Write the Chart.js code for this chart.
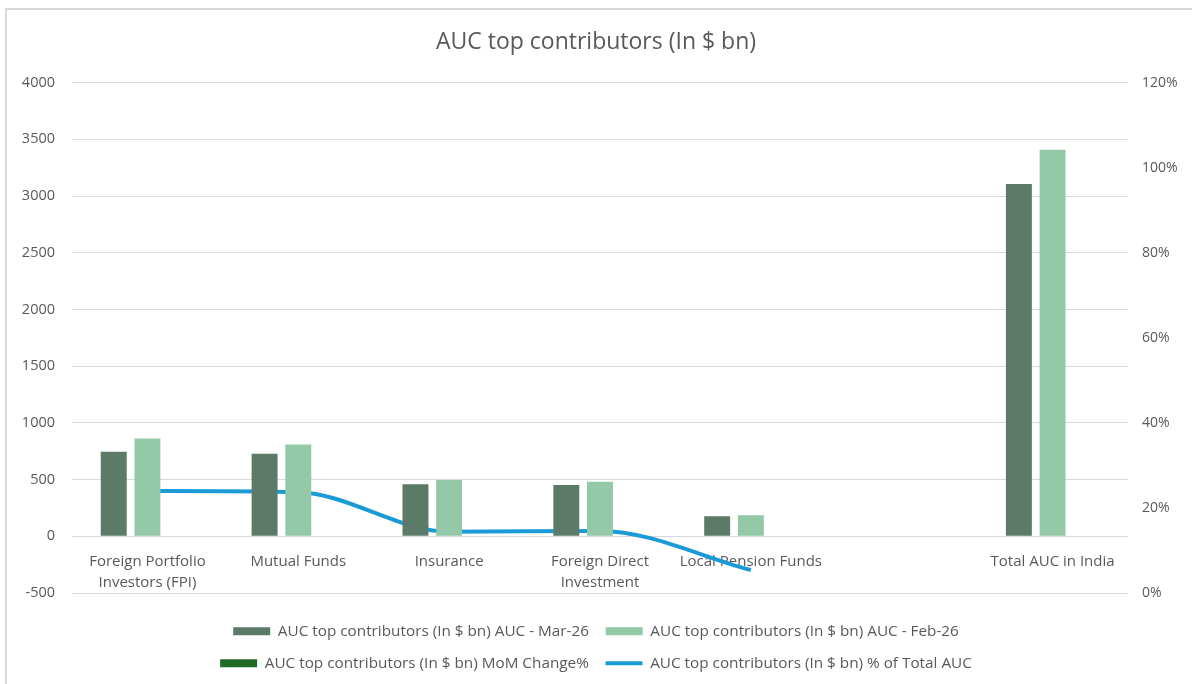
<!DOCTYPE html>
<html>
<head>
<meta charset="utf-8">
<script src="https://cdn.jsdelivr.net/npm/chart.js@4.4.1/dist/chart.umd.min.js"></script>
<style>
  html, body { margin: 0; padding: 0; background: #ffffff; }
  #wrap { width: 1192px; height: 684px; }
</style>
</head>
<body>
<div id="wrap"><canvas id="myChart" width="1192" height="684"></canvas></div>
<script>
    // Data
    const categories = [
        ['Foreign Portfolio', 'Investors (FPI)'],
        'Mutual Funds',
        'Insurance',
        ['Foreign Direct', 'Investment'],
        'Local Pension Funds',
        '',
        'Total AUC in India'
    ];
    const aucMar26 = [745, 728, 458, 452, 176, null, 3105];
    const aucFeb26 = [862, 810, 496, 481, 185, null, 3407];
    const momChange = [-0.14, -0.10, -0.08, -0.06, -0.05, null, -0.09];
    const shareOfTotal = [24.0, 23.7, 14.4, 14.6, 5.4, null, null];

    const leftTicks = { min: -500, max: 4000, step: 500 };
    const rightTicks = { min: 0, max: 120, step: 20 };

    const momColor = '#1f6b26';

    Chart.defaults.font.family = '"Open Sans", Roboto, sans-serif';
    Chart.defaults.font.size = 14;
    Chart.defaults.color = '#595959';

    // light frame on the top and left edge, like the source screenshot
    const frame = {
        id: 'frame',
        beforeDraw(chart) {
            const ctx = chart.ctx;
            ctx.save();
            ctx.fillStyle = '#ffffff';
            ctx.fillRect(0, 0, chart.width, chart.height);
            ctx.strokeStyle = '#d9d9d9';
            ctx.lineWidth = 2;
            ctx.beginPath();
            ctx.moveTo(6, chart.height);
            ctx.lineTo(6, 9);
            ctx.lineTo(chart.width, 9);
            ctx.stroke();
            ctx.restore();
        }
    };

    // keep the legend at two items per row
    const legendRows = {
        id: 'legendRows',
        afterInit(chart) {
            const legend = chart.legend;
            const update = legend.update.bind(legend);
            legend.update = (w, h, m) => update(Math.min(w, 840), h, m);
        }
    };

    const ctx = document.getElementById('myChart').getContext('2d');
    new Chart(ctx, {
        type: 'bar',
        data: {
            labels: categories,
            datasets: [
                {
                    label: 'AUC top contributors (In $ bn) AUC - Mar-26',
                    data: aucMar26,
                    backgroundColor: '#5b7a68',
                    pointStyle: 'rect',
                    yAxisID: 'y'
                },
                {
                    label: 'AUC top contributors (In $ bn) AUC - Feb-26',
                    data: aucFeb26,
                    backgroundColor: '#93c9a6',
                    pointStyle: 'rect',
                    yAxisID: 'y'
                },
                {
                    // fractions on the $ bn axis: too small to show, as in the source
                    label: 'AUC top contributors (In $ bn) MoM Change%',
                    data: momChange,
                    backgroundColor: 'rgba(31, 107, 38, 0)',
                    inflateAmount: 0,
                    pointStyle: 'rect',
                    yAxisID: 'y'
                },
                {
                    type: 'line',
                    label: 'AUC top contributors (In $ bn) % of Total AUC',
                    data: shareOfTotal,
                    borderColor: '#1a9bd7',
                    backgroundColor: '#1a9bd7',
                    borderWidth: 4,
                    pointRadius: 0,
                    pointStyle: 'line',
                    cubicInterpolationMode: 'monotone',
                    fill: false,
                    yAxisID: 'y1'
                }
            ]
        },
        options: {
            responsive: false,
            animation: false,
            layout: { padding: { top: 8, bottom: 3, left: 0, right: 0 } },
            datasets: {
                bar: { categoryPercentage: 0.67, barPercentage: 0.77 }
            },
            plugins: {
                title: {
                    display: true,
                    text: 'AUC top contributors (In $ bn)',
                    font: { size: 23, weight: 'normal' },
                    color: '#595959',
                    padding: { top: 21, bottom: 26 }
                },
                legend: {
                    position: 'bottom',
                    labels: {
                        usePointStyle: true,
                        pointStyleWidth: 37,
                        boxHeight: 8,
                        padding: 16.7,
                        font: { size: 15.3 },
                        color: '#595959',
                        generateLabels: chart => {
                            const items = Chart.defaults.plugins.legend.labels.generateLabels(chart);
                            items.forEach(item => {
                                if (item.datasetIndex === 2) item.fillStyle = momColor;
                            });
                            return items;
                        }
                    }
                },
                tooltip: { enabled: false }
            },
            scales: {
                x: {
                    grid: { display: false, drawTicks: false },
                    border: { display: false },
                    ticks: {
                        mirror: true,
                        padding: 21,
                        maxRotation: 0,
                        autoSkip: false,
                        font: { size: 15, lineHeight: 1.4 }
                    },
                    afterFit: s => { s.height = 14; }
                },
                y: {
                    position: 'left',
                    min: leftTicks.min,
                    max: leftTicks.max,
                    ticks: {
                        stepSize: leftTicks.step,
                        padding: 17,
                        font: { size: 14.5 },
                        callback: v => String(v)
                    },
                    grid: { color: '#d9d9d9', drawTicks: false },
                    border: { display: false },
                    afterFit: s => { s.width = 72; }
                },
                y1: {
                    position: 'right',
                    min: rightTicks.min,
                    max: rightTicks.max,
                    ticks: {
                        stepSize: rightTicks.step,
                        padding: 14,
                        callback: v => v + '%'
                    },
                    grid: { display: false, drawTicks: false },
                    border: { display: false },
                    afterFit: s => { s.width = 64; }
                }
            }
        },
        plugins: [frame, legendRows]
    });
</script>
</body>
</html>
